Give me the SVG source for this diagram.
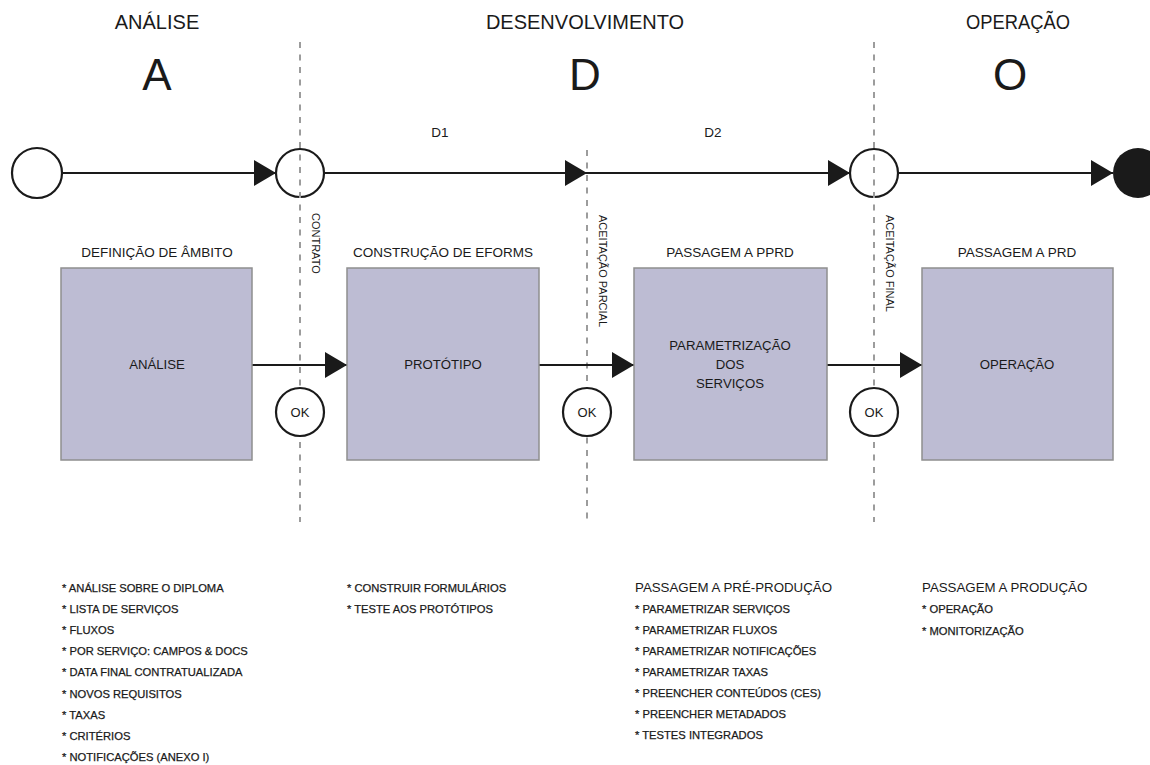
<svg xmlns="http://www.w3.org/2000/svg" width="1150" height="765" viewBox="0 0 1150 765">
<style>
text{font-family:"Liberation Sans",Arial,sans-serif;fill:#1a1a1a}
.hdr{font-size:20px;text-anchor:middle}
.big{font-size:44px;text-anchor:middle}
.lbl{font-size:13.5px;text-anchor:middle}
.in{font-size:13.2px;text-anchor:middle}
.vt{font-size:11px}
.li{font-size:11.2px;stroke:#1a1a1a;stroke-width:0.25}
.lh{font-size:13.3px}
.box{fill:#bdbcd3;stroke:#8f8f8f;stroke-width:1.5}
.ln{stroke:#1a1a1a;stroke-width:2.2;fill:none}
.dash{stroke:#9c9c9c;stroke-width:2;stroke-dasharray:6 6.5;fill:none}
.circ{fill:#fff;stroke:#1a1a1a;stroke-width:2.2}
.ok{font-size:13px;text-anchor:middle}
</style>
<defs>
<marker id="ah" markerUnits="userSpaceOnUse" markerWidth="24" markerHeight="28" refX="22" refY="13" orient="auto">
<path d="M0,0 L22,13 L0,26 Z" fill="#1a1a1a"/>
</marker>
</defs>

<g id="headers">
<text class="hdr" x="157" y="29">ANÁLISE</text>
<text class="hdr" x="585" y="29">DESENVOLVIMENTO</text>
<text class="hdr" x="1018" y="29" textLength="104" lengthAdjust="spacingAndGlyphs">OPERAÇÃO</text>
<text class="big" x="157" y="90">A</text>
<text class="big" x="585" y="90">D</text>
<text class="big" x="1010" y="90">O</text>
<text class="lbl" x="440" y="137">D1</text>
<text class="lbl" x="713" y="137">D2</text>
</g>

<g id="timeline-nodes">
<circle id="start" class="circ" cx="37" cy="173" r="25"/>
<circle id="m-contrato" class="circ" cx="300" cy="173" r="24"/>
<circle id="m-final" class="circ" cx="874" cy="173" r="24"/>
<circle id="end" cx="1138" cy="173" r="25" fill="#1a1a1a"/>
</g>

<g id="boundaries">
<line class="dash" x1="300" y1="42" x2="300" y2="522"/>
<line class="dash" x1="587" y1="150" x2="587" y2="522"/>
<line class="dash" x1="874" y1="42" x2="874" y2="522"/>
<text class="vt" transform="translate(312,213) rotate(90)">CONTRATO</text>
<text class="vt" transform="translate(599,215) rotate(90)">ACEITAÇÃO PARCIAL</text>
<text class="vt" transform="translate(886,215) rotate(90)">ACEITAÇÃO FINAL</text>
</g>

<g id="connectors">
<line class="ln" x1="62" y1="173" x2="276" y2="173" marker-end="url(#ah)"/>
<line class="ln" x1="324" y1="173" x2="587" y2="173" marker-end="url(#ah)"/>
<line class="ln" x1="587" y1="173" x2="850" y2="173" marker-end="url(#ah)"/>
<line class="ln" x1="898" y1="173" x2="1113" y2="173" marker-end="url(#ah)"/>
<line class="ln" x1="252" y1="365" x2="347" y2="365" marker-end="url(#ah)"/>
<line class="ln" x1="539" y1="365" x2="634" y2="365" marker-end="url(#ah)"/>
<line class="ln" x1="827" y1="365" x2="922" y2="365" marker-end="url(#ah)"/>
</g>

<g id="ok1"><circle class="circ" cx="300" cy="412" r="24"/><text class="ok" x="300" y="417">OK</text></g>
<g id="ok2"><circle class="circ" cx="587" cy="412" r="24"/><text class="ok" x="587" y="417">OK</text></g>
<g id="ok3"><circle class="circ" cx="874" cy="412" r="24"/><text class="ok" x="874" y="417">OK</text></g>

<g id="analise">
<text class="lbl" x="157" y="257">DEFINIÇÃO DE ÂMBITO</text>
<rect class="box" x="61" y="268" width="191" height="192"/>
<text class="in" x="157" y="369">ANÁLISE</text>
</g>
<g id="prototipo">
<text class="lbl" x="443" y="257">CONSTRUÇÃO DE EFORMS</text>
<rect class="box" x="347" y="268" width="192" height="192"/>
<text class="in" x="443" y="369">PROTÓTIPO</text>
</g>
<g id="parametrizacao">
<text class="lbl" x="730" y="257">PASSAGEM A PPRD</text>
<rect class="box" x="634" y="268" width="193" height="192"/>
<text class="in" x="730" y="350">PARAMETRIZAÇÃO</text>
<text class="in" x="730" y="369">DOS</text>
<text class="in" x="730" y="388">SERVIÇOS</text>
</g>
<g id="operacao">
<text class="lbl" x="1017" y="257">PASSAGEM A PRD</text>
<rect class="box" x="922" y="268" width="191" height="192"/>
<text class="in" x="1017" y="369">OPERAÇÃO</text>
</g>

<g id="list-analise">
<text class="li" x="62" y="592">* ANÁLISE SOBRE O DIPLOMA</text>
<text class="li" x="62" y="613">* LISTA DE SERVIÇOS</text>
<text class="li" x="62" y="634">* FLUXOS</text>
<text class="li" x="62" y="655">* POR SERVIÇO: CAMPOS &amp; DOCS</text>
<text class="li" x="62" y="676">* DATA FINAL CONTRATUALIZADA</text>
<text class="li" x="62" y="698">* NOVOS REQUISITOS</text>
<text class="li" x="62" y="719">* TAXAS</text>
<text class="li" x="62" y="740">* CRITÉRIOS</text>
<text class="li" x="62" y="761">* NOTIFICAÇÕES (ANEXO I)</text>
</g>
<g id="list-eforms">
<text class="li" x="347" y="592">* CONSTRUIR FORMULÁRIOS</text>
<text class="li" x="347" y="613">* TESTE AOS PROTÓTIPOS</text>
</g>
<g id="list-pprd">
<text class="lh" x="635" y="592">PASSAGEM A PRÉ-PRODUÇÃO</text>
<text class="li" x="635" y="613">* PARAMETRIZAR SERVIÇOS</text>
<text class="li" x="635" y="634">* PARAMETRIZAR FLUXOS</text>
<text class="li" x="635" y="655">* PARAMETRIZAR NOTIFICAÇÕES</text>
<text class="li" x="635" y="676">* PARAMETRIZAR TAXAS</text>
<text class="li" x="635" y="697">* PREENCHER CONTEÚDOS (CES)</text>
<text class="li" x="635" y="718">* PREENCHER METADADOS</text>
<text class="li" x="635" y="739">* TESTES INTEGRADOS</text>
</g>
<g id="list-prd">
<text class="lh" x="922" y="592">PASSAGEM A PRODUÇÃO</text>
<text class="li" x="922" y="613">* OPERAÇÃO</text>
<text class="li" x="922" y="635">* MONITORIZAÇÃO</text>
</g>
</svg>
